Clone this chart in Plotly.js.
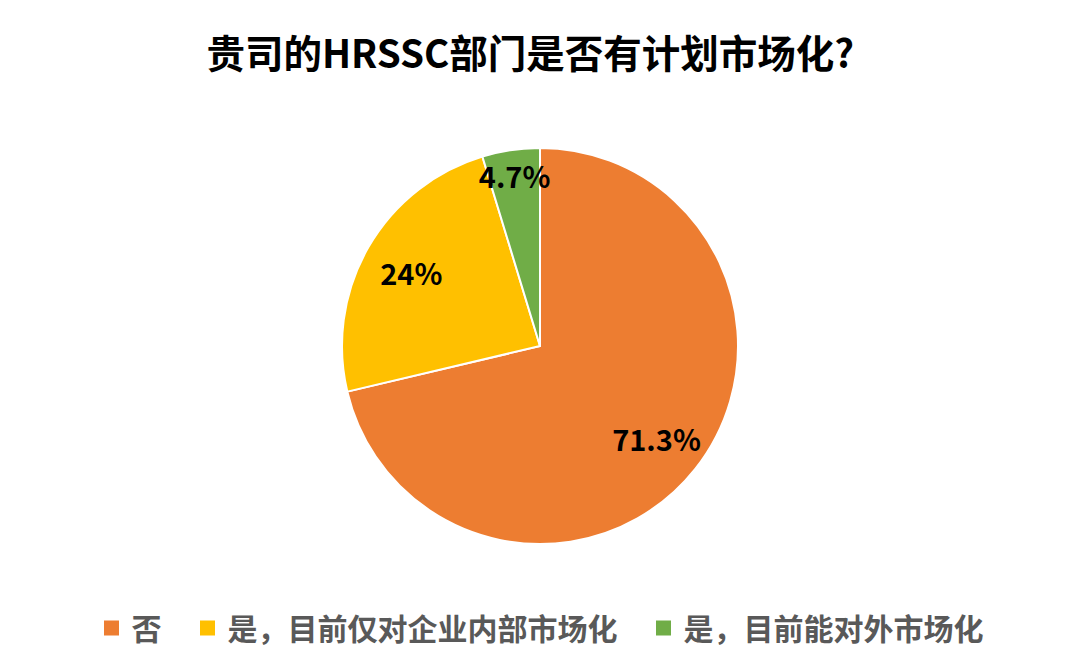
<!DOCTYPE html>
<html>
<head>
<meta charset="utf-8">
<script src="https://cdn.plot.ly/plotly-3.0.1.min.js"></script>
<style>html,body{margin:0;padding:0;background:#fff;}#chart{width:1080px;height:669px;}</style>
</head>
<body>
<div id="chart"></div>
<script>
const categories = ["否", "是，目前仅对企业内部市场化", "是，目前能对外市场化"];
const values = [71.3, 24, 4.7];
const labelsText = ["71.3%", "24%", "4.7%"];
const colors = ["#ED7D31", "#FFC000", "#70AD47"];

const pieTrace = {
  type: "pie",
  labels: categories,
  values: values,
  textinfo: "none",
  sort: false,
  direction: "clockwise",
  rotation: 0,
  showlegend: false,
  marker: {colors: colors, line: {color: "#ffffff", width: 2}},
  hoverinfo: "none"
};

// transparent ring used only to place the percentage labels further out
const labelTrace = {
  type: "pie",
  labels: categories,
  values: values,
  text: labelsText,
  textinfo: "text",
  textposition: "inside",
  insidetextorientation: "horizontal",
  hole: 0.5,
  sort: false,
  direction: "clockwise",
  rotation: 0,
  showlegend: false,
  marker: {colors: ["rgba(0,0,0,0)", "rgba(0,0,0,0)", "rgba(0,0,0,0)"], line: {width: 0}},
  textfont: {family: "Noto Sans CJK SC, Noto Sans, sans-serif", size: 29, color: "#000000", weight: "bold"},
  hoverinfo: "none"
};

// legend entries (larger square swatches than the pie legend gives)
const pad = ["\u2002\u2009", "\u2002\u2009", ""];
const legendTraces = categories.map((c, i) => ({
  type: "scatter",
  mode: "markers",
  x: [null], y: [null],
  name: c + pad[i],
  marker: {symbol: "square", size: 15, color: colors[i], line: {width: 0}},
  showlegend: true,
  hoverinfo: "none"
}));

const layout = {
  width: 1080, height: 669,
  margin: {t: 148, b: 125, l: 0, r: 0},
  paper_bgcolor: "#ffffff",
  plot_bgcolor: "rgba(0,0,0,0)",
  xaxis: {visible: false, showgrid: false, zeroline: false},
  yaxis: {visible: false, showgrid: false, zeroline: false},
  title: {
    text: "<b>贵司的HRSSC部门是否有计划市场化?</b>",
    font: {family: "Noto Sans CJK SC, sans-serif", size: 38.5, color: "#000000"},
    x: 0.491, xanchor: "center", xref: "paper",
    y: 1 - 55/669, yref: "container", yanchor: "middle"
  },
  uniformtext: {mode: "show", minsize: 29},
  showlegend: true,
  legend: {
    orientation: "h",
    x: 0.5, xanchor: "center",
    y: -0.212, yanchor: "middle",
    font: {family: "Noto Sans CJK SC, sans-serif", size: 30, color: "#595959", weight: "bold"},
    itemwidth: 30,
    traceorder: "normal"
  }
};

Plotly.newPlot("chart", [pieTrace, labelTrace].concat(legendTraces), layout, {displayModeBar: false, staticPlot: true});
</script>
</body>
</html>
